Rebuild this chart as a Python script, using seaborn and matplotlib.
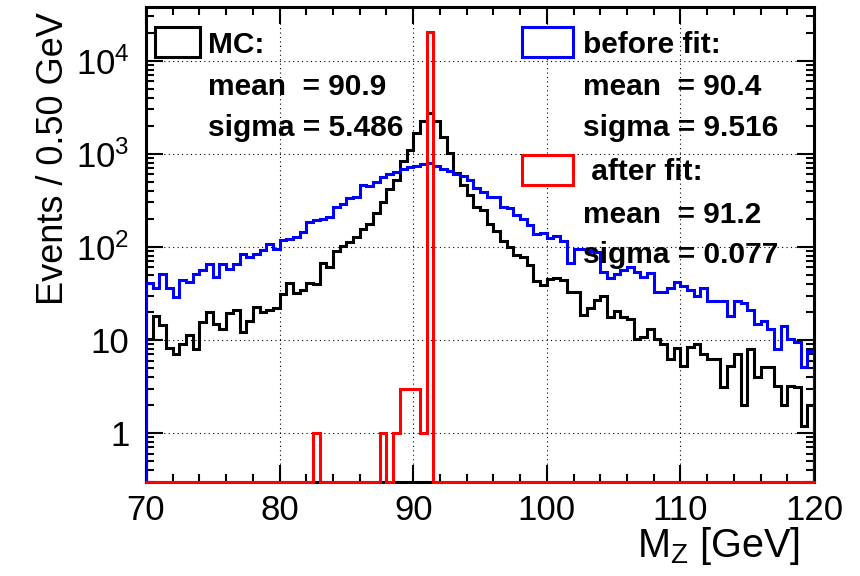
import numpy as np
import pandas as pd
import matplotlib
matplotlib.use("Agg")
import matplotlib.pyplot as plt
import seaborn as sns
from matplotlib.ticker import MultipleLocator, LogLocator, FuncFormatter, NullFormatter
from matplotlib.patches import Rectangle

# ---------------- data (events per 0.5 GeV bin, 70-120 GeV) ----------------
x_min = 70.0
bin_width = 0.5

mc_counts = [
    10.2, 18.2, 14.5, 8.2, 7.1, 9.0, 11.3, 8.0, 15.5, 19.8,
    15.0, 13.0, 19.5, 21.0, 12.1, 16.0, 22.4, 20.0, 21.0, 22.0,
    31.2, 41.0, 32.0, 34.0, 40.5, 40.0, 67.0, 60.0, 90.0, 103,
    112, 127, 156, 177, 230, 302, 421, 525, 830, 1100,
    1680, 2250, 2750, 2250, 1520, 1010, 620, 466, 363, 267,
    246, 175, 147, 115, 100, 81, 77, 64, 42.5, 38.5,
    45, 46, 44, 32.5, 32.5, 18.5, 22, 27, 30, 17.5,
    20.7, 17.8, 16.6, 10.3, 10.8, 13.1, 10.3, 9.1, 6.2, 8.2,
    5.2, 8.3, 9.1, 7.0, 6.2, 6.2, 3.1, 5.2, 7.1, 2.0,
    8.0, 4.0, 5.1, 5.1, 3.2, 2.0, 3.2, 3.1, 1.2, 2.0,
]

before_fit_counts = [
    41, 36, 51, 36, 29, 44, 42, 51, 57, 66,
    47, 66, 58, 66, 84, 77, 83, 93, 106, 95,
    117, 122, 129, 146, 187, 195, 200, 208, 267, 292,
    336, 347, 456, 445, 495, 560, 609, 634, 690, 718,
    743, 780, 790, 735, 690, 650, 600, 570, 516, 431,
    387, 341, 347, 267, 263, 218, 200, 172, 138, 140,
    125, 132, 116, 67, 95, 94, 90, 89, 53, 46,
    51, 56, 60, 54, 47, 52, 32.5, 32.5, 36, 41.6,
    38.4, 34, 30, 36, 26, 26, 26, 18.2, 26, 25,
    21, 15, 16.1, 13, 8, 14.2, 10.3, 9.5, 5.1, 7.6,
]

after_fit_counts = [0] * 100
after_fit_counts[25] = 1
after_fit_counts[35] = 1
after_fit_counts[37] = 1
after_fit_counts[38] = 3
after_fit_counts[39] = 3
after_fit_counts[40] = 3
after_fit_counts[41] = 1
after_fit_counts[42] = 20300

mc_legend = ["MC:", "mean  = 90.9", "sigma = 5.486"]
before_legend = ["before fit:", "mean  = 90.4", "sigma = 9.516"]
after_legend = [" after fit:", "mean  = 91.2", "sigma = 0.077"]

x_label = r"M$_{\mathregular{Z}}$ [GeV]"
y_label = "Events / 0.50 GeV"

# ---------------- style ----------------
sns.set_theme(style="ticks")
plt.rcParams["font.family"] = ["Liberation Sans", "DejaVu Sans"]
plt.rcParams["mathtext.fontset"] = "custom"
plt.rcParams["mathtext.rm"] = "Liberation Sans"
plt.rcParams["mathtext.it"] = "Liberation Sans:italic"
plt.rcParams["mathtext.bf"] = "Liberation Sans:bold"
plt.rcParams["text.color"] = "black"
plt.rcParams["xtick.color"] = "black"
plt.rcParams["ytick.color"] = "black"
plt.rcParams["axes.edgecolor"] = "black"

W, H = 860, 576
fx = lambda px: px / W
fy = lambda py: 1 - py / H

fig = plt.figure(figsize=(W / 100, H / 100), dpi=100)
fig.patch.set_facecolor("white")
ax = fig.add_axes([fx(146), fy(481.7), fx(814) - fx(146), fy(7.3) - fy(481.7)])
ax.set_facecolor("white")
ax.set_yscale("log")

YMIN, YMAX = 0.3, 3.74e4
n = len(mc_counts)
edges = x_min + bin_width * np.arange(n + 1)


def step_frame(counts):
    c = np.maximum(np.asarray(counts, dtype=float), YMIN)
    xs = np.concatenate([[edges[0]], np.repeat(edges, 2)[1:-1], [edges[-1]]])
    ys = np.concatenate([[YMIN], np.repeat(c, 2), [YMIN]])
    return pd.DataFrame({"x": xs, "y": ys})


for counts, color, clip, z in [
    (mc_counts, "#000000", True, 3),
    (before_fit_counts, "#0000ff", True, 4),
    (after_fit_counts, "#ff0000", False, 5),
]:
    sns.lineplot(data=step_frame(counts), x="x", y="y", estimator=None, sort=False,
                 color=color, linewidth=2.2, ax=ax, legend=False, clip_on=clip,
                 zorder=z, solid_joinstyle="miter")

ax.set_xlim(70, 120)
ax.set_ylim(YMIN, YMAX)
ax.set_xlabel("")
ax.set_ylabel("")

ax.xaxis.set_major_locator(MultipleLocator(10))
ax.xaxis.set_minor_locator(MultipleLocator(2))
ax.yaxis.set_major_locator(LogLocator(base=10, numticks=20))
ax.yaxis.set_minor_locator(LogLocator(base=10, subs=np.arange(2, 10), numticks=20))
ax.yaxis.set_minor_formatter(NullFormatter())


def yfmt(v, pos):
    e = int(round(np.log10(v)))
    if e == 0:
        return "1"
    if e == 1:
        return "10"
    return r"$\mathregular{10^{%d}}$" % e


ax.yaxis.set_major_formatter(FuncFormatter(yfmt))
ax.tick_params(which="both", direction="in", top=True, right=True, width=1.5)
ax.tick_params(which="major", length=12, labelsize=25)
ax.tick_params(which="minor", length=6)
ax.tick_params(axis="x", which="major", pad=9)
ax.tick_params(axis="y", which="major", pad=12)
for s in ax.spines.values():
    s.set_linewidth(2.2)
    s.set_color("black")
    s.set_zorder(2.5)
ax.grid(True, which="major", color="black", linestyle=(0, (1, 3)), linewidth=0.8)
ax.set_axisbelow(True)

# ---------------- legend boxes and texts ----------------
def box(x0, y0, x1, y1, color):
    fig.add_artist(Rectangle((fx(x0), fy(y1)), fx(x1) - fx(x0), fy(y0) - fy(y1),
                             transform=fig.transFigure, facecolor="white",
                             edgecolor=color, linewidth=2.2, zorder=10))


box(155, 27, 200, 57, "#000000")
box(521.5, 27, 572.5, 57, "#0000ff")
box(521.5, 155, 572.5, 185, "#ff0000")

baselines = [53, 95, 136]
for txt, yb in zip(mc_legend, baselines):
    fig.text(fx(208), fy(yb), txt, fontsize=21.5, fontweight="bold",
             ha="left", va="baseline", zorder=11)
for txt, yb in zip(before_legend, baselines):
    fig.text(fx(583), fy(yb), txt, fontsize=21.5, fontweight="bold",
             ha="left", va="baseline", zorder=11)
for txt, yb in zip(after_legend, [180, 223, 263]):
    fig.text(fx(583), fy(yb), txt, fontsize=21.5, fontweight="bold",
             ha="left", va="baseline", zorder=11)

# ---------------- axis titles ----------------
fig.text(fx(800), fy(557), x_label, fontsize=28.5, ha="right", va="baseline")
fig.text(fx(63), fy(12), y_label, fontsize=26, rotation=90, rotation_mode="anchor",
         ha="right", va="baseline")

fig.savefig("out.png", dpi=100, facecolor="white")
